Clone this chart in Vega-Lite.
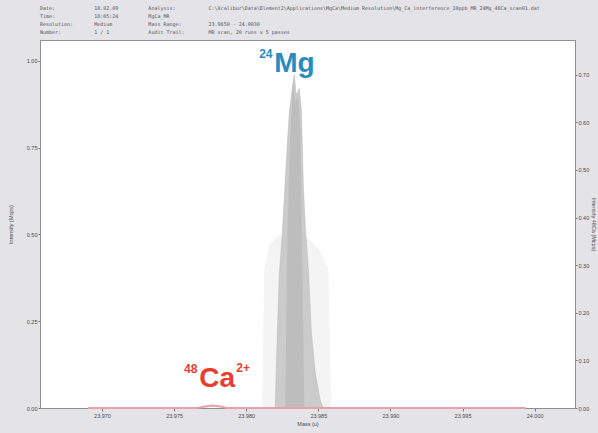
{
  "$schema": "https://vega.github.io/schema/vega-lite/v6.json",
  "width": 535,
  "height": 368,
  "autosize": {"type": "none"},
  "padding": {"left": 40, "top": 40, "right": 23, "bottom": 25},
  "background": "#e3e3e8",
  "config": {
    "view": {"fill": "white", "stroke": "#8f8f8f", "strokeWidth": 1},
    "axis": {
      "grid": false,
      "labelFont": "Liberation Sans",
      "labelFontSize": 5.5,
      "labelColor": "#4a4a4a",
      "titleFont": "Liberation Sans",
      "titleFontSize": 5.5,
      "titleFontWeight": "normal",
      "titleColor": "#4a4a4a",
      "tickColor": "#777777",
      "domainColor": "#8f8f8f",
      "tickSize": 3,
      "labelPadding": 2
    }
  },
  "title": {
    "text": [
      "Date:\u00a0\u00a0\u00a0\u00a0\u00a0\u00a0\u00a0\u00a0\u00a0\u00a0\u00a0\u00a0\u00a018.02.09\u00a0\u00a0\u00a0\u00a0\u00a0\u00a0\u00a0\u00a0\u00a0\u00a0Analysis:\u00a0\u00a0\u00a0\u00a0\u00a0\u00a0\u00a0\u00a0\u00a0\u00a0\u00a0C:\\Xcalibur\\Data\\Element2\\Applications\\MgCa\\Medium\u00a0Resolution\\Mg_Ca_interference_10ppb_MR_24Mg_48Ca_scan01.dat",
      "Time:\u00a0\u00a0\u00a0\u00a0\u00a0\u00a0\u00a0\u00a0\u00a0\u00a0\u00a0\u00a0\u00a018:05:24\u00a0\u00a0\u00a0\u00a0\u00a0\u00a0\u00a0\u00a0\u00a0\u00a0MgCa_MR",
      "Resolution:\u00a0\u00a0\u00a0\u00a0\u00a0\u00a0\u00a0Medium\u00a0\u00a0\u00a0\u00a0\u00a0\u00a0\u00a0\u00a0\u00a0\u00a0\u00a0\u00a0Mass\u00a0Range:\u00a0\u00a0\u00a0\u00a0\u00a0\u00a0\u00a0\u00a0\u00a023.9650\u00a0-\u00a024.0030",
      "Number:\u00a0\u00a0\u00a0\u00a0\u00a0\u00a0\u00a0\u00a0\u00a0\u00a0\u00a01\u00a0/\u00a01\u00a0\u00a0\u00a0\u00a0\u00a0\u00a0\u00a0\u00a0\u00a0\u00a0\u00a0\u00a0\u00a0Audit\u00a0Trail:\u00a0\u00a0\u00a0\u00a0\u00a0\u00a0\u00a0\u00a0MR\u00a0scan,\u00a020\u00a0runs\u00a0x\u00a05\u00a0passes"
    ],
    "anchor": "start",
    "frame": "group",
    "font": "DejaVu Sans Mono",
    "fontSize": 5,
    "fontWeight": "normal",
    "color": "#555555",
    "lineHeight": 8,
    "offset": 5
  },
  "datasets": {
    "spectrum": [
      {"trace": "envelope", "mz": 23.98111, "intensity": 0},
      {"trace": "envelope", "mz": 23.98125, "intensity": 0.40},
      {"trace": "envelope", "mz": 23.98160, "intensity": 0.47},
      {"trace": "envelope", "mz": 23.98230, "intensity": 0.50},
      {"trace": "envelope", "mz": 23.98400, "intensity": 0.50},
      {"trace": "envelope", "mz": 23.98500, "intensity": 0.46},
      {"trace": "envelope", "mz": 23.98569, "intensity": 0.40},
      {"trace": "envelope", "mz": 23.98590, "intensity": 0},
      {"trace": "main", "mz": 23.98201, "intensity": 0},
      {"trace": "main", "mz": 23.98215, "intensity": 0.20},
      {"trace": "main", "mz": 23.98229, "intensity": 0.38},
      {"trace": "main", "mz": 23.98250, "intensity": 0.50},
      {"trace": "main", "mz": 23.98278, "intensity": 0.71},
      {"trace": "main", "mz": 23.98299, "intensity": 0.85},
      {"trace": "main", "mz": 23.98319, "intensity": 0.92},
      {"trace": "main", "mz": 23.98333, "intensity": 0.96},
      {"trace": "main", "mz": 23.98347, "intensity": 0.90},
      {"trace": "main", "mz": 23.98368, "intensity": 0.92},
      {"trace": "main", "mz": 23.98382, "intensity": 0.86},
      {"trace": "main", "mz": 23.98396, "intensity": 0.64},
      {"trace": "main", "mz": 23.98410, "intensity": 0.52},
      {"trace": "main", "mz": 23.98431, "intensity": 0.40},
      {"trace": "main", "mz": 23.98451, "intensity": 0.22},
      {"trace": "main", "mz": 23.98479, "intensity": 0.10},
      {"trace": "main", "mz": 23.98514, "intensity": 0.02},
      {"trace": "main", "mz": 23.98535, "intensity": 0},
      {"trace": "inner", "mz": 23.98271, "intensity": 0},
      {"trace": "inner", "mz": 23.98285, "intensity": 0.50},
      {"trace": "inner", "mz": 23.98306, "intensity": 0.80},
      {"trace": "inner", "mz": 23.98326, "intensity": 0.94},
      {"trace": "inner", "mz": 23.98340, "intensity": 0.88},
      {"trace": "inner", "mz": 23.98361, "intensity": 0.90},
      {"trace": "inner", "mz": 23.98375, "intensity": 0.80},
      {"trace": "inner", "mz": 23.98389, "intensity": 0.40},
      {"trace": "inner", "mz": 23.98403, "intensity": 0}
    ],
    "calcium": [
      {"mz": 23.96903, "intensity": 0},
      {"mz": 23.97660, "intensity": 0},
      {"mz": 23.97715, "intensity": 0.003},
      {"mz": 23.97764, "intensity": 0.005},
      {"mz": 23.97819, "intensity": 0.003},
      {"mz": 23.97868, "intensity": 0},
      {"mz": 23.99938, "intensity": 0}
    ],
    "labels": [
      {"element": "Mg", "part": "symbol", "text": "Mg", "mz": 23.98194, "intensity": 0.968},
      {"element": "Mg", "part": "mass", "text": "24", "mz": 23.98090, "intensity": 1.009},
      {"element": "Ca", "part": "symbol", "text": "Ca", "mz": 23.97674, "intensity": 0.0605},
      {"element": "Ca", "part": "mass", "text": "48", "mz": 23.97569, "intensity": 0.101},
      {"element": "Ca", "part": "mass", "text": "2+", "mz": 23.97931, "intensity": 0.104}
    ]
  },
  "layer": [
    {
      "layer": [
        {
          "data": {"name": "spectrum"},
          "transform": [{"filter": "datum.trace === 'envelope'"}],
          "mark": {"type": "area", "color": "#f4f4f4"},
          "encoding": {
            "x": {
              "field": "mz", "type": "quantitative", "title": "Mass (u)",
              "scale": {"domain": [23.9657, 24.0028], "nice": false, "zero": false},
              "axis": {
                "values": [23.97, 23.975, 23.98, 23.985, 23.99, 23.995, 24.0],
                "format": ".3f",
                "titlePadding": 3
              }
            },
            "y": {
              "field": "intensity", "type": "quantitative", "title": "Intensity (Mcps)",
              "scale": {"domain": [0, 1.06], "nice": false},
              "axis": {
                "orient": "left",
                "values": [0, 0.25, 0.5, 0.75, 1.0],
                "format": ".2f",
                "tickSize": 2,
                "labelPadding": 1,
                "titlePadding": 13
              }
            }
          }
        },
        {
          "data": {"name": "spectrum"},
          "transform": [{"filter": "datum.trace === 'main'"}],
          "mark": {"type": "area", "color": "#cbcbcb", "stroke": "#b4b4b4", "strokeWidth": 0.5},
          "encoding": {
            "x": {"field": "mz", "type": "quantitative", "title": "Mass (u)", "scale": {"domain": [23.9657, 24.0028], "nice": false, "zero": false}},
            "y": {"field": "intensity", "type": "quantitative", "title": "Intensity (Mcps)", "scale": {"domain": [0, 1.06], "nice": false}}
          }
        },
        {
          "data": {"name": "spectrum"},
          "transform": [{"filter": "datum.trace === 'inner'"}],
          "mark": {"type": "area", "color": "#b9b9b9", "opacity": 0.8},
          "encoding": {
            "x": {"field": "mz", "type": "quantitative", "title": "Mass (u)", "scale": {"domain": [23.9657, 24.0028], "nice": false, "zero": false}},
            "y": {"field": "intensity", "type": "quantitative", "title": "Intensity (Mcps)", "scale": {"domain": [0, 1.06], "nice": false}}
          }
        },
        {
          "data": {"name": "labels"},
          "transform": [{"filter": "datum.part === 'symbol'"}],
          "mark": {"type": "text", "align": "left", "baseline": "alphabetic", "font": "Liberation Sans", "fontWeight": "bold", "fontSize": 28},
          "encoding": {
            "x": {"field": "mz", "type": "quantitative", "title": "Mass (u)", "scale": {"domain": [23.9657, 24.0028], "nice": false, "zero": false}},
            "y": {"field": "intensity", "type": "quantitative", "title": "Intensity (Mcps)", "scale": {"domain": [0, 1.06], "nice": false}},
            "text": {"field": "text"},
            "color": {"field": "element", "type": "nominal", "scale": {"domain": ["Mg", "Ca"], "range": ["#2a8bbf", "#ea3d2d"]}, "legend": null}
          }
        },
        {
          "data": {"name": "labels"},
          "transform": [{"filter": "datum.part === 'mass'"}],
          "mark": {"type": "text", "align": "left", "baseline": "alphabetic", "font": "Liberation Sans", "fontWeight": "bold", "fontSize": 12},
          "encoding": {
            "x": {"field": "mz", "type": "quantitative", "title": "Mass (u)", "scale": {"domain": [23.9657, 24.0028], "nice": false, "zero": false}},
            "y": {"field": "intensity", "type": "quantitative", "title": "Intensity (Mcps)", "scale": {"domain": [0, 1.06], "nice": false}},
            "text": {"field": "text"},
            "color": {"field": "element", "type": "nominal", "scale": {"domain": ["Mg", "Ca"], "range": ["#2a8bbf", "#ea3d2d"]}, "legend": null}
          }
        }
      ]
    },
    {
      "data": {"name": "calcium"},
      "mark": {"type": "line", "color": "#e9a0aa", "strokeWidth": 2},
      "encoding": {
        "x": {"field": "mz", "type": "quantitative", "title": "Mass (u)", "scale": {"domain": [23.9657, 24.0028], "nice": false, "zero": false}},
        "y": {
          "field": "intensity", "type": "quantitative", "title": "Intensity 48Ca (Mcps)",
          "scale": {"domain": [0, 0.773], "nice": false},
          "axis": {
            "orient": "right",
            "values": [0, 0.1, 0.2, 0.3, 0.4, 0.5, 0.6, 0.7],
            "format": ".2f",
            "tickSize": 2,
            "labelPadding": 1,
            "titlePadding": 2
          }
        }
      }
    }
  ],
  "resolve": {"scale": {"y": "independent"}}
}
